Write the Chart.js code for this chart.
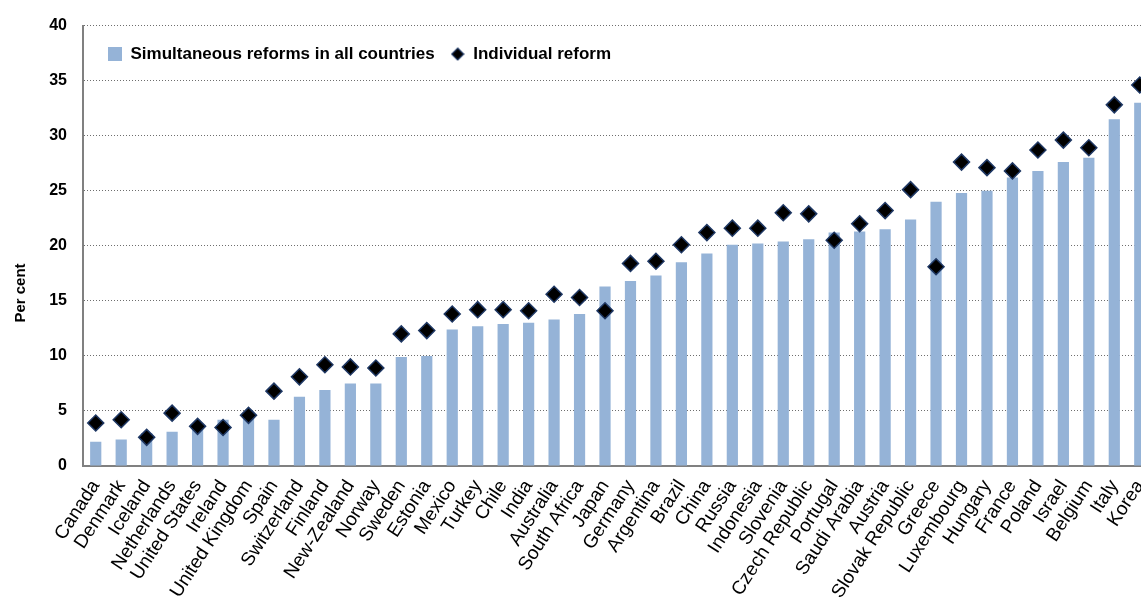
<!DOCTYPE html>
<html>
<head>
<meta charset="utf-8">
<script src="https://cdn.jsdelivr.net/npm/chart.js@4"></script>
<style>
  html, body { margin: 0; padding: 0; background: #fff; overflow: hidden; }
  #wrap { width: 1169px; height: 599px; position: relative; }
</style>
</head>
<body>
<div id="wrap"><canvas id="reformChart"></canvas></div>
<script>
const countries = [
  'Canada', 'Denmark', 'Iceland', 'Netherlands', 'United States', 'Ireland',
  'United Kingdom', 'Spain', 'Switzerland', 'Finland', 'New-Zealand', 'Norway',
  'Sweden', 'Estonia', 'Mexico', 'Turkey', 'Chile', 'India', 'Australia',
  'South Africa', 'Japan', 'Germany', 'Argentina', 'Brazil', 'China', 'Russia',
  'Indonesia', 'Slovenia', 'Czech Republic', 'Portugal', 'Saudi Arabia', 'Austria',
  'Slovak Republic', 'Greece', 'Luxembourg', 'Hungary', 'France', 'Poland',
  'Israel', 'Belgium', 'Italy', 'Korea'
];

const simultaneousReforms = [
  2.2, 2.4, 3.0, 3.1, 3.7, 4.2, 4.5, 4.2, 6.3, 6.9, 7.5, 7.5,
  9.9, 10.0, 12.4, 12.7, 12.9, 13.0, 13.3, 13.8, 16.3, 16.8, 17.3, 18.5,
  19.3, 20.1, 20.2, 20.4, 20.6, 21.2, 21.3, 21.5, 22.4, 24.0, 24.8, 25.0,
  26.2, 26.8, 27.6, 28.0, 31.5, 33.0
];

const individualReform = [
  3.9, 4.2, 2.6, 4.8, 3.6, 3.5, 4.6, 6.8, 8.1, 9.2, 9.0, 8.9,
  12.0, 12.3, 13.8, 14.2, 14.2, 14.1, 15.6, 15.3, 14.1, 18.4, 18.6, 20.1,
  21.2, 21.6, 21.6, 23.0, 22.9, 20.5, 22.0, 23.2, 25.1, 18.1, 27.6, 27.1,
  26.8, 28.7, 29.6, 28.9, 32.8, 34.6
];

const yTicks = { min: 0, max: 40, step: 5 };
const yTitleText = 'Per cent';

const barBlue = '#95b3d7';
const axisGrey = '#808080';
const diamondFill = '#000000';
const diamondEdge = '#1f3864';

// small diamond used only as the legend marker
const diamondIcon = document.createElement('canvas');
diamondIcon.width = 14;
diamondIcon.height = 14;
(function () {
  const g = diamondIcon.getContext('2d');
  g.beginPath();
  g.moveTo(7, 1); g.lineTo(13, 7); g.lineTo(7, 13); g.lineTo(1, 7); g.closePath();
  g.fillStyle = diamondFill;
  g.fill();
  g.lineWidth = 1.2;
  g.strokeStyle = diamondEdge;
  g.stroke();
})();

// put the legend inside the plot area, like the original
const legendInsidePlot = {
  id: 'legendInsidePlot',
  afterInit(chart) {
    const legend = chart.legend;
    const fit = legend.fit.bind(legend);
    legend.fit = function () {
      fit();
      legend._realHeight = legend.height;
      legend.height = 0;
    };
  },
  beforeDraw(chart) {
    const legend = chart.legend;
    legend.left = chart.chartArea.left + 9;
    legend.top = chart.chartArea.top + 4;
    legend.bottom = legend.top + legend._realHeight;
  }
};

// axis title sits lower than the middle of the axis in the original
const yAxisTitle = {
  id: 'yAxisTitle',
  afterDraw(chart) {
    const c = chart.ctx;
    c.save();
    c.translate(21, 293);
    c.rotate(-Math.PI / 2);
    c.textAlign = 'center';
    c.textBaseline = 'middle';
    c.fillStyle = '#000';
    c.font = 'bold 15px "Liberation Sans", Arial, sans-serif';
    c.fillText(yTitleText, 0, 0);
    c.restore();
  }
};

const ctx = document.getElementById('reformChart').getContext('2d');

new Chart(ctx, {
  type: 'bar',
  data: {
    labels: countries,
    datasets: [
      {
        type: 'line',
        label: 'Individual reform',
        data: individualReform,
        showLine: false,
        pointStyle: 'rectRot',
        pointRadius: 8,
        pointHoverRadius: 8,
        pointBackgroundColor: diamondFill,
        pointBorderColor: diamondEdge,
        pointBorderWidth: 1.5,
        backgroundColor: diamondFill,
        borderColor: diamondEdge,
        order: 0
      },
      {
        label: 'Simultaneous reforms in all countries',
        data: simultaneousReforms,
        backgroundColor: barBlue,
        borderWidth: 0,
        barPercentage: 0.44,
        categoryPercentage: 1.0,
        order: 1
      }
    ]
  },
  options: {
    responsive: true,
    maintainAspectRatio: false,
    animation: false,
    layout: { padding: { top: 15, right: 0, left: 0, bottom: 0 } },
    plugins: {
      tooltip: { enabled: false },
      legend: {
        position: 'top',
        align: 'start',
        reverse: true,
        labels: {
          usePointStyle: true,
          boxWidth: 14,
          boxHeight: 14,
          padding: 16,
          color: '#000',
          font: { family: '"Liberation Sans", Arial, sans-serif', size: 17, weight: 'bold' },
          generateLabels(chart) {
            const items = Chart.defaults.plugins.legend.labels.generateLabels(chart);
            items.forEach(item => {
              item.pointStyle = item.datasetIndex === 0 ? diamondIcon : 'rect';
              if (item.datasetIndex === 1) {
                item.fillStyle = barBlue;
                item.strokeStyle = barBlue;
                item.lineWidth = 0;
              }
            });
            return items;
          }
        }
      }
    },
    scales: {
      x: {
        grid: { display: false, drawTicks: false },
        border: { display: true, color: axisGrey, width: 2 },
        ticks: {
          autoSkip: false,
          minRotation: 57,
          maxRotation: 57,
          padding: 10,
          color: '#000',
          font: { family: '"Liberation Sans", Arial, sans-serif', size: 19 }
        },
        afterFit(scale) { scale.height = 133; }
      },
      y: {
        min: yTicks.min,
        max: yTicks.max,
        grid: { color: '#6e6e6e', lineWidth: 1, drawTicks: false },
        border: { display: true, color: axisGrey, width: 2, dash: [1, 2] },
        ticks: {
          stepSize: yTicks.step,
          padding: 16,
          color: '#000',
          font: { family: '"Liberation Sans", Arial, sans-serif', size: 16, weight: 'bold' }
        },
        afterFit(scale) { scale.width = 83; }
      }
    }
  },
  plugins: [legendInsidePlot, yAxisTitle]
});
</script>
</body>
</html>
